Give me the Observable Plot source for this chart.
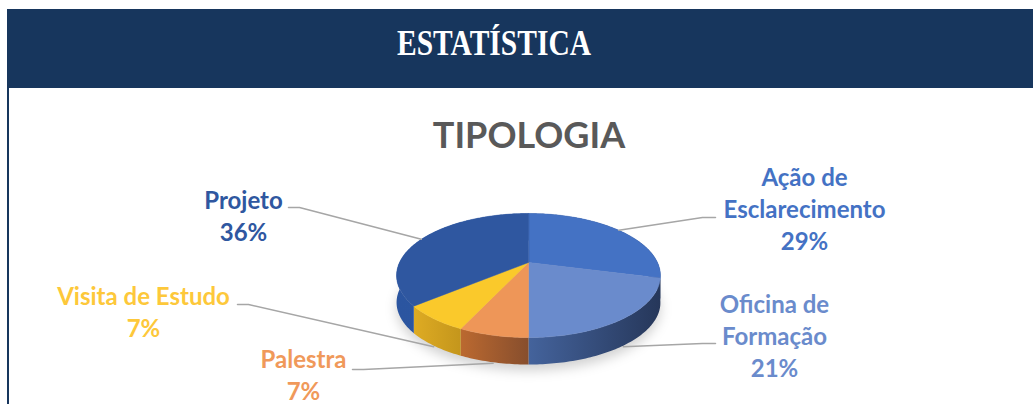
<!DOCTYPE html>
<html><head><meta charset="utf-8">
<script src="https://cdn.jsdelivr.net/npm/d3@7"></script>
<script src="https://cdn.jsdelivr.net/npm/@observablehq/plot@0.6"></script>
<style>
html,body{margin:0;padding:0;background:#fff;}
body{width:1033px;height:404px;overflow:hidden;position:relative;font-family:Lato,"Open Sans",sans-serif;}
#header{position:absolute;left:7px;top:9px;width:1026px;height:79px;background:#17365d;}
#htitle{position:absolute;left:494px;top:0;white-space:nowrap;color:#fff;font-family:"Liberation Serif",serif;font-weight:bold;font-size:35px;line-height:35px;transform-origin:0 0;}
#border{position:absolute;left:7px;top:88px;width:2px;height:316px;background:#17365d;}
#ctitle{position:absolute;left:529px;top:116px;white-space:nowrap;transform:translateX(-50%);color:#595959;font-family:Lato,sans-serif;font-weight:bold;font-size:36px;line-height:36px;}
#chart{position:absolute;left:0;top:87px;}
</style></head><body>
<div id="header"></div>
<div id="htitle">ESTATÍSTICA</div>
<div id="border"></div>
<div id="chart"></div>
<div id="ctitle">TIPOLOGIA</div>
<script>
// ---- data ----
const categories = ["Ação de Esclarecimento", "Oficina de Formação", "Palestra", "Visita de Estudo", "Projeto"];
const values = [29, 21, 7, 7, 36];
const labelText = ["Ação de\nEsclarecimento", "Oficina de\nFormação", "Palestra", "Visita de Estudo", "Projeto"];
const percentText = ["29%", "21%", "7%", "7%", "36%"];

// ---- styles ----
const topColors = ["#4472c4", "#6a8bcc", "#ee9658", "#fac92b", "#2f57a0"];
const sideFrom = ["#2f4a7a", "#44639c", "#bb6930", "#deab23", "#2b55a0"];
const sideTo = ["#283b60", "#26375a", "#874e2d", "#c4961c", "#2c58a2"];
const labelColors = ["#4472c4", "#6a8bcc", "#f0995a", "#fdc83a", "#2f57a0"];

// ---- layout ----
const W = 1033, H = 317, Y0 = 87;
const cx = 528, cy = 262, a = 129, b = 59.3, p = 0.2096, depth = 27;
const labelPos = [[804, 207], [774, 334], [303, 373], [143, 310], [243, 214]];
const leaderEnd = [[715, 217], [715, 343], [352, 369], [237, 304], [288, 207]];

// header title fitting
const ht = document.getElementById("htitle");
const hw = ht.getBoundingClientRect().width;
const sx = 194 / hw;
ht.style.transform = `translate(${-97}px, 26px) scaleX(${sx})`;

function proj(t) {
  const X = Math.sin(t), Z = Math.cos(t), d = 1 + p * Z;
  return [cx + a * X / d, cy - b * Z / d];
}

const arcs = d3.pie().sort(null).startAngle(0).endAngle(2 * Math.PI)(values);

function arcPts(s, e) {
  const n = Math.max(2, Math.ceil((e - s) / (Math.PI / 180)));
  return d3.range(n + 1).map(i => proj(s + (e - s) * i / n));
}

const tops = arcs.map((ar, i) => {
  const pts = [[cx, cy], ...arcPts(ar.startAngle, ar.endAngle)];
  return pts.map(([x, y]) => ({k: i, x, y}));
});
const sides = arcs.map((ar, i) => {
  const pts = arcPts(ar.startAngle, ar.endAngle);
  const all = [...pts, ...pts.slice().reverse().map(([x, y]) => [x, y + depth])];
  return all.map(([x, y]) => ({k: i, x, y}));
});
const shadow = arcPts(0, 2 * Math.PI).map(([x, y]) => ({x: x, y: y + depth + 6}));

const leaders = arcs.flatMap((ar, i) => {
  const m = (ar.startAngle + ar.endAngle) / 2;
  let [x, y] = proj(m);
  if (Math.cos(m) < 0) y += depth + 1;
  const [ex, ey] = leaderEnd[i];
  const elbow = ex > cx ? ex - 13 : ex + 11;
  return [{k: i, x, y}, {k: i, x: elbow, y: ey}, {k: i, x: ex, y: ey}];
});

const labels = categories.map((c, i) => ({
  name: c, x: labelPos[i][0], y: labelPos[i][1],
  text: labelText[i] + "\n" + percentText[i], color: labelColors[i]
}));

function defs() {
  const d = d3.create("svg:defs");
  arcs.forEach((ar, i) => {
    const g = d.append("linearGradient").attr("id", "side" + i).attr("x1", 0).attr("x2", 1).attr("y1", 0).attr("y2", 0);
    g.append("stop").attr("offset", 0).attr("stop-color", sideFrom[i]);
    g.append("stop").attr("offset", 1).attr("stop-color", sideTo[i]);
  });
  return d.node();
}

const marks = [
  defs,
  Plot.line(shadow, {x: "x", y: "y", curve: "linear-closed", fill: "#000", fillOpacity: 0.18, stroke: "none", imageFilter: "blur(6px)"}),
  ...sides.map((s, i) => Plot.line(s, {x: "x", y: "y", curve: "linear-closed", fill: `url(#side${i})`, stroke: "none"})),
  ...tops.map((t, i) => Plot.line(t, {x: "x", y: "y", curve: "linear-closed", fill: topColors[i], stroke: topColors[i], strokeWidth: 0.5})),
  Plot.line(leaders, {x: "x", y: "y", z: "k", stroke: "#a6a6a6", strokeWidth: 1.5}),
  Plot.text(labels, {x: "x", y: "y", text: "text", fill: "color", fontFamily: "Lato", fontWeight: "bold", fontSize: 24, lineHeight: 32 / 24, textAnchor: "middle"})
];

const chart = Plot.plot({
  width: W, height: H, margin: 0,
  x: {domain: [0, W], range: [0, W], axis: null},
  y: {domain: [Y0, Y0 + H], range: [0, H], axis: null},
  color: {type: "identity"},
  style: {background: "transparent", overflow: "visible"},
  marks
});
document.getElementById("chart").appendChild(chart);
</script>
</body></html>
